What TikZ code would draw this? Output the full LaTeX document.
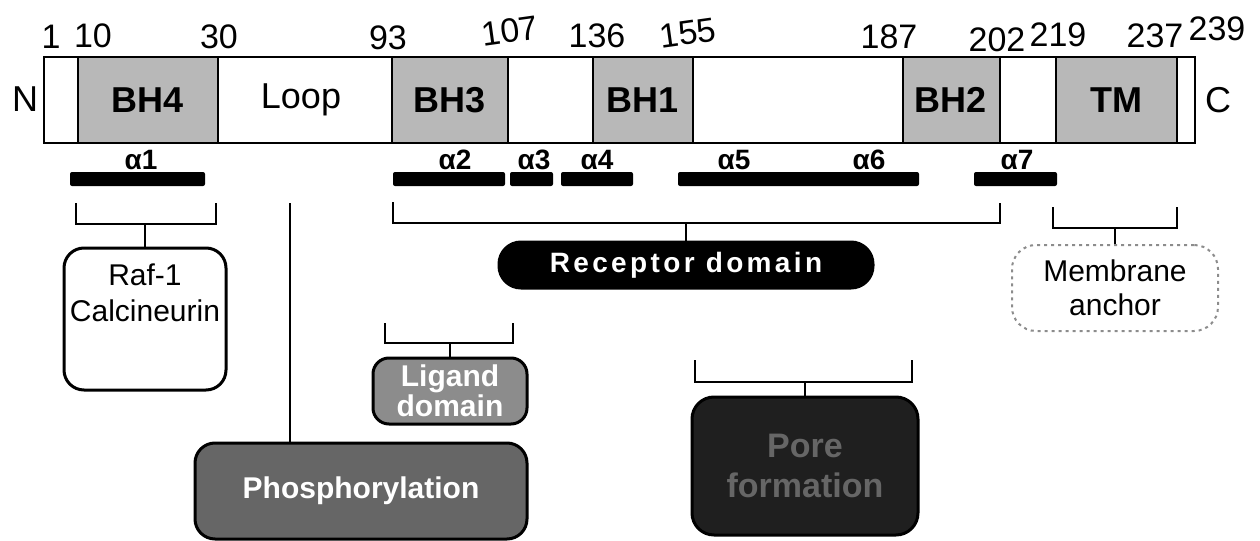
\documentclass[tikz,border=0pt]{standalone}
\usepackage{fontspec}
\setmainfont{Liberation Sans}
\usepackage{tikz}
\usetikzlibrary{calc}

\begin{document}
\begin{tikzpicture}[x=0.5pt,y=-0.5pt,
    num/.style={font=\fontsize{17}{17}\selectfont},
    shd/.style={fill=black!28},
    hlx/.style={fill=black,rounded corners=1pt},
    alab/.style={font=\fontsize{14}{14}\selectfont\bfseries},
    seglab/.style={font=\fontsize{18}{18}\selectfont\bfseries},
    brk/.style={line width=0.8pt},
    box/.style={draw,line width=1.5pt,align=center,inner sep=0pt,rounded corners=10pt}]
      \useasboundingbox (0,0) rectangle (1260,541);

      % 1. 主條：陰影區段 BH4, BH3, BH1, BH2, TM
      \fill[shd] (78,57) rectangle (218,143);
      \fill[shd] (392,57) rectangle (508,143);
      \fill[shd] (593,57) rectangle (693,143);
      \fill[shd] (903,57) rectangle (1000,143);
      \fill[shd] (1056,57) rectangle (1177,143);
      \draw[line width=1pt] (44,57) rectangle (1195,143);
      \foreach \x in {78,218,392,508,593,693,903,1000,1056,1177}
        \draw[line width=1pt] (\x,57) -- (\x,143);

      % 2. 區段名稱與兩端
      \node[font=\fontsize{18}{18}\selectfont] (nterm) at (25,99) {N};
      \node[font=\fontsize{18}{18}\selectfont] (cterm) at (1218,100) {C};
      \node[seglab] (bh4) at (148,100) {BH4};
      \node[font=\fontsize{18}{18}\selectfont] (loop) at (301,100) {Loop};
      \node[seglab] (bh3) at (450,100) {BH3};
      \node[seglab] (bh1) at (643,100) {BH1};
      \node[seglab] (bh2) at (951,100) {BH2};
      \node[seglab] (tm) at (1116,100) {TM};

      % 3. 殘基編號
      \node[num] (r1) at (51,37) {1};
      \node[num] (r10) at (93,36) {10};
      \node[num] (r30) at (219,37) {30};
      \node[num] (r93) at (388,38) {93};
      \node[num,rotate=8] (r107) at (510,31) {107};
      \node[num] (r136) at (597,36) {136};
      \node[num,rotate=8] (r155) at (688,33) {155};
      \node[num] (r187) at (889,37) {187};
      \node[num] (r202) at (997,40) {202};
      \node[num] (r219) at (1058,35) {219};
      \node[num] (r237) at (1155,36) {237};
      \node[num] (r239) at (1217,29) {239};

      % 4. 螺旋 alpha1 -- alpha7
      \fill[hlx] (70,172) rectangle (205,186);
      \fill[hlx] (393,172) rectangle (505,186);
      \fill[hlx] (510,172) rectangle (553,186);
      \fill[hlx] (561,172) rectangle (633,186);
      \fill[hlx] (678,172) rectangle (919,186);
      \fill[hlx] (974,172) rectangle (1057,186);
      \node[alab] (a1) at (141,160) {α1};
      \node[alab] (a2) at (455,160) {α2};
      \node[alab] (a3) at (534,160) {α3};
      \node[alab] (a4) at (597,160) {α4};
      \node[alab] (a5) at (734,160) {α5};
      \node[alab] (a6) at (869,160) {α6};
      \node[alab] (a7) at (1017,160) {α7};

      % 5. 功能方框
      \node[box,minimum width=81pt,minimum height=71pt,
        font=\fontsize{15}{18}\selectfont] (raf) at (145,319) {Raf-1\\Calcineurin\\[8pt]};
      \node[box,fill=black!60,text=white,minimum width=166pt,minimum height=48pt,
        font=\fontsize{15}{15}\selectfont\bfseries] (phos) at (361,491) {Phosphorylation};
      \node[box,fill=black!45,text=white,minimum width=77pt,minimum height=33pt,rounded corners=8pt,
        font=\fontsize{15}{15}\selectfont\bfseries] (lig) at (450,391) {Ligand\\domain};
      \node[box,fill=black,text=white,minimum width=187pt,minimum height=23pt,rounded corners=11pt,
        font=\fontsize{14}{14}\selectfont\bfseries\addfontfeature{LetterSpace=12}] (rec) at (686,265) {Receptor domain};
      \node[box,fill=black!88,text=black!60,minimum width=113pt,minimum height=69pt,rounded corners=11pt,
        font=\fontsize{17}{20}\selectfont\bfseries] (pore) at (805,466) {Pore\\formation};
      \node[box,draw=black!45,dotted,line width=1pt,minimum width=103pt,minimum height=43pt,rounded corners=12pt,
        font=\fontsize{15}{17}\selectfont] (memb) at (1115,288) {Membrane\\anchor};

      % 6. 括號與連線
      \coordinate (rafbr) at (145,224);
      \draw[brk] (76,203) |- (216,224) -- (216,203);
      \draw[brk] (rafbr) -- (raf.north);
      \coordinate (recbr) at (686,223);
      \draw[brk] (393,202) |- (1000,223) -- (1000,203);
      \draw[brk] (recbr) -- (rec.north);
      \coordinate (ligbr) at (450,343);
      \draw[brk] (385,323) |- (513,343) -- (513,323);
      \draw[brk] (ligbr) -- (lig.north);
      \coordinate (porebr) at (805,382);
      \draw[brk] (695,360) |- (912,382) -- (912,360);
      \draw[brk] (porebr) -- (pore.north);
      \coordinate (membbr) at (1115,228);
      \draw[brk] (1053,207) |- (1177,228) -- (1177,207);
      \draw[brk] (membbr) -- (memb.north);
      \coordinate (loopln) at (290,203);
      \draw[brk] (loopln) -- (loopln |- phos.north);
\end{tikzpicture}
\end{document}
